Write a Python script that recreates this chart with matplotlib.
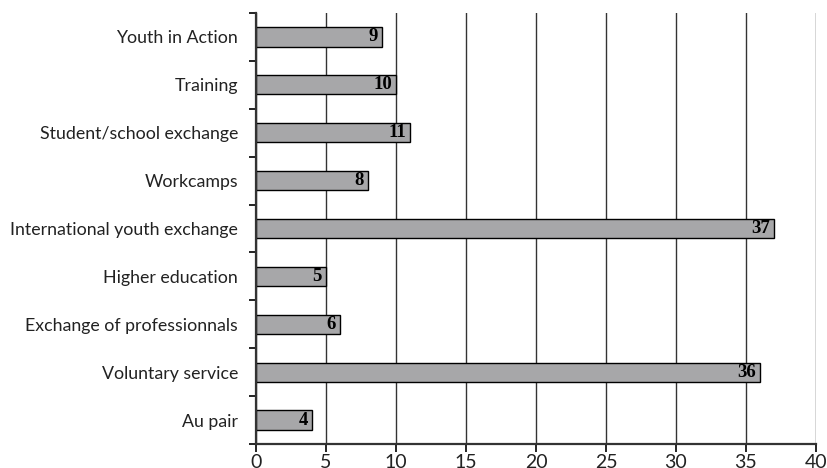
import numpy as np
import matplotlib.pyplot as plt

# categories top to bottom, as in the picture
categories = ["Youth in Action", "Training", "Student/school exchange", "Workcamps",
              "International youth exchange", "Higher education",
              "Exchange of professionnals", "Voluntary service", "Au pair"]
values = [9, 10, 11, 8, 37, 5, 6, 36, 4]
xticks = [0, 5, 10, 15, 20, 25, 30, 35, 40]

fig = plt.figure(figsize=(8.27, 4.68), dpi=100)
ax = fig.add_axes([0.3096, 0.0513, 0.677, 0.9209])

n = len(categories)
y = np.arange(n)[::-1]  # first category on top
ax.barh(y, values, height=0.4, color="#a7a7a9", edgecolor="black", linewidth=1.0, zorder=3)

for yi, v in zip(y, values):
    ax.text(v - 0.3, yi, str(v), ha="right", va="center", fontsize=13.5,
            fontweight="bold", family="Liberation Serif", zorder=4)

ax.set_xlim(0, 40)
ax.set_ylim(-0.5, n - 0.5)
ax.set_xticks(xticks)
ax.set_xticklabels([str(t) for t in xticks], family="Lato", fontsize=14, color="#222222")
ax.grid(axis="x", color="#333333", linewidth=1.0, zorder=1)

# category labels at bar centres, ticks at the boundaries between them
ax.set_yticks(np.arange(-0.5, n, 1.0))
ax.set_yticklabels([])
ax.set_yticks(y, minor=True)
ax.set_yticklabels(categories, minor=True, family="Lato", fontsize=12.8, color="#222222")
ax.tick_params(axis="y", which="minor", length=0, pad=13)
ax.tick_params(axis="y", which="major", length=5, width=1.2, direction="out")
ax.tick_params(axis="x", length=6, width=1.2, direction="out", pad=1)

for s in ["top", "right"]:
    ax.spines[s].set_visible(False)
for s in ["left", "bottom"]:
    ax.spines[s].set_linewidth(1.6)
    ax.spines[s].set_color("#333333")
    ax.spines[s].set_zorder(5)

fig.savefig("out.png", dpi=100)
